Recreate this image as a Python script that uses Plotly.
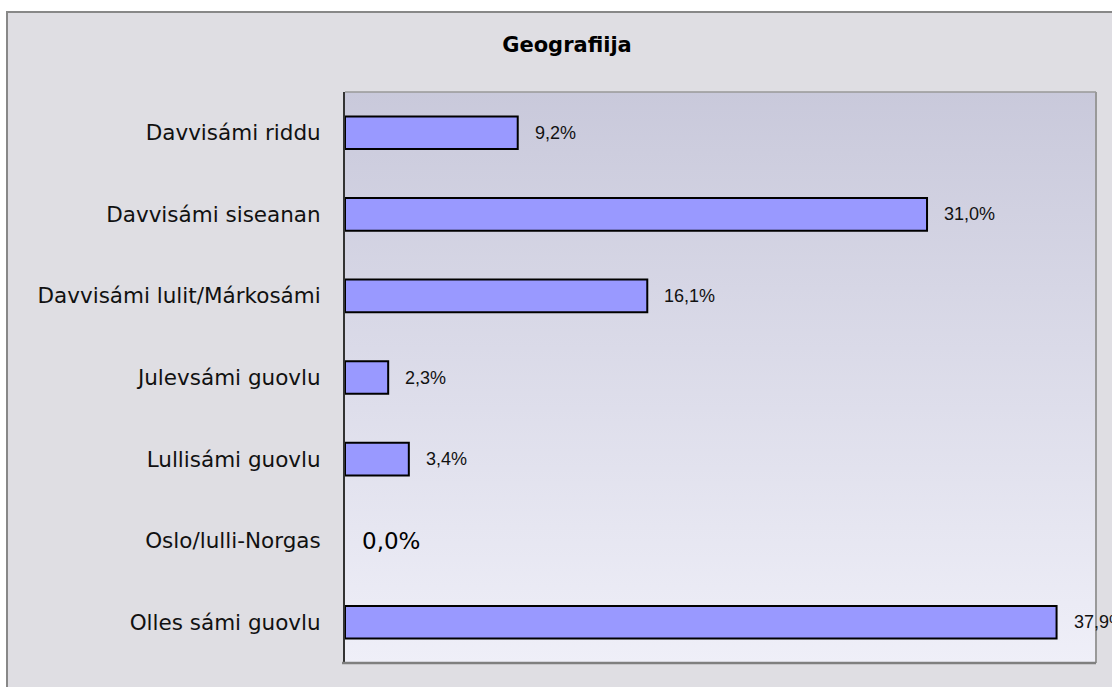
import base64
import plotly.graph_objects as go

# survey answers, percent
categories = [
    "Davvisámi riddu",
    "Davvisámi siseanan",
    "Davvisámi lulit/Márkosámi",
    "Julevsámi guovlu",
    "Lullisámi guovlu",
    "Oslo/lulli-Norgas",
    "Olles sámi guovlu",
]
values = [9.2, 31.0, 16.1, 2.3, 3.4, 0.0, 37.9]
x_range = [0, 40]

W, H = 1112, 687
ml, mr, mt, mb = 345, 16, 92, 24
pw = W - ml - mr
ph = H - mt - mb


def px(xp):
    return (xp - ml) / pw


def py(yp):
    return 1 - (yp - mt) / ph


# gradient for the plot area (plotly has no gradient plot_bgcolor)
svg = ('<svg xmlns="http://www.w3.org/2000/svg" width="100" height="100" '
       'viewBox="0 0 100 100" preserveAspectRatio="none"><defs>'
       '<linearGradient id="g" x1="0" y1="0" x2="0" y2="1">'
       '<stop offset="0" stop-color="#c9c9db"/><stop offset="1" stop-color="#efeff8"/>'
       '</linearGradient></defs><rect width="100" height="100" fill="url(#g)"/></svg>')
bg_src = "data:image/svg+xml;base64," + base64.b64encode(svg.encode()).decode()

fig = go.Figure()

# no outline on empty bars
line_widths = [2 if v > 0 else 0 for v in values]

fig.add_trace(go.Bar(x=values, y=categories,
                     orientation='h',
                     width=0.4,
                     marker=dict(color='#9999ff', line=dict(color='black', width=line_widths)),
                     hoverinfo='skip'))

for cat, v in zip(categories, values):
    label = f"{v:.1f}%".replace('.', ',')
    if v == 0:
        font = dict(family='DejaVu Sans', size=23, color='black')
    else:
        font = dict(family='Liberation Sans', size=18, color='#111111')
    fig.add_annotation(x=v, y=cat, text=label, showarrow=False,
                       xanchor='left', yanchor='middle', xshift=15, font=font)

fig.add_layout_image(dict(source=bg_src, xref='paper', yref='paper',
                          x=0, y=1, sizex=1, sizey=1, xanchor='left', yanchor='top',
                          sizing='stretch', layer='below'))

# white page edge + outer frame
fig.add_shape(type='rect', xref='paper', yref='paper', layer='below',
              x0=px(-20), x1=px(1200), y0=py(-20), y1=py(11),
              fillcolor='white', line_width=0)
fig.add_shape(type='rect', xref='paper', yref='paper', layer='below',
              x0=px(-20), x1=px(6), y0=py(-20), y1=py(720),
              fillcolor='white', line_width=0)
fig.add_shape(type='rect', xref='paper', yref='paper', layer='below',
              x0=px(7), x1=px(1200), y0=py(720), y1=py(12),
              line=dict(color='#888888', width=2))

# plot frame
fig.add_shape(type='line', xref='paper', yref='paper', x0=0, x1=1, y0=1, y1=1,
              line=dict(color='#999999', width=1.5))
fig.add_shape(type='line', xref='paper', yref='paper', x0=1, x1=1, y0=0, y1=1,
              line=dict(color='#999999', width=2))
fig.add_shape(type='line', xref='paper', yref='paper', x0=px(342), x1=1, y0=0, y1=0,
              line=dict(color='#7f7f7f', width=2.5))

fig.update_layout(
    width=W,
    height=H,
    margin=dict(l=ml, r=mr, t=mt, b=mb),
    paper_bgcolor='#dfdee3',
    plot_bgcolor='rgba(0,0,0,0)',
    showlegend=False,
    title=dict(text='Geografiija', x=567 / W, xref='container', xanchor='center',
               y=1 - 45 / H, yref='container', yanchor='middle',
               font=dict(family='DejaVu Sans', size=21, color='black', weight='bold')),
    xaxis=dict(
        range=x_range,
        showgrid=False,
        zeroline=False,
        showline=False,
        showticklabels=False,
        fixedrange=True,
    ),
    yaxis=dict(
        autorange='reversed',
        showgrid=False,
        zeroline=False,
        showline=True,
        linecolor='#333333',
        linewidth=2,
        ticks='outside',
        ticklen=18,
        tickcolor='rgba(0,0,0,0)',
        tickfont=dict(family='DejaVu Sans', size=21.5, color='#111111'),
        fixedrange=True,
    ),
)

fig.write_html("out.html", config={'displayModeBar': False},
               post_script="document.body.style.margin='0';")
